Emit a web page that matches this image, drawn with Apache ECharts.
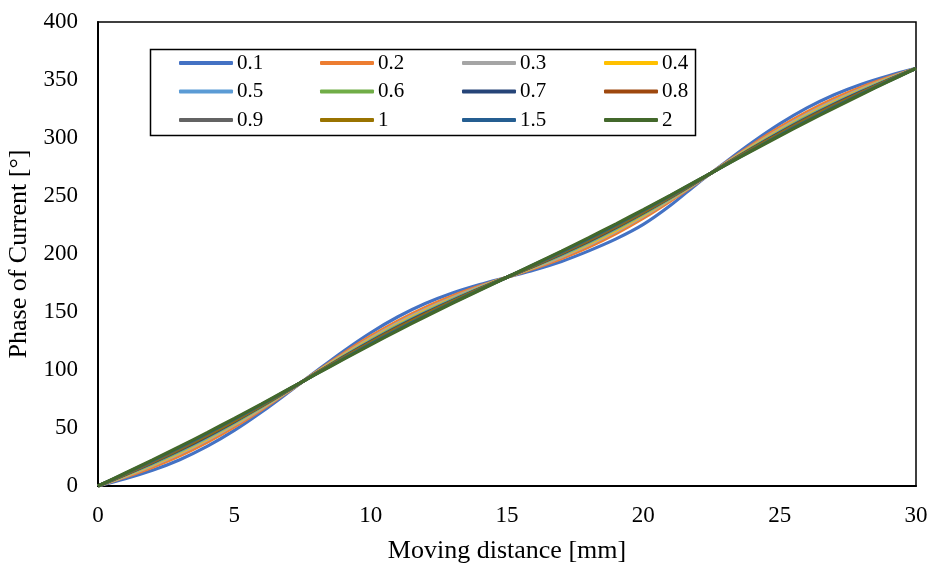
<!DOCTYPE html>
<html>
<head>
<meta charset="utf-8">
<script src="https://cdn.jsdelivr.net/npm/echarts@6/dist/echarts.min.js"></script>
<style>html,body{margin:0;padding:0;background:#fff}#c{width:931px;height:566px}</style>
</head>
<body>
<div id="c"></div>
<script>
const xValues = [0,1,2,3,4,5,6,7,8,9,10,11,12,13,14,15,16,17,18,19,20,21,22,23,24,25,26,27,28,29,30];
const seriesNames = ['0.1','0.2','0.3','0.4','0.5','0.6','0.7','0.8','0.9','1','1.5','2'];
const colors = ['#4472C4','#ED7D31','#A5A5A5','#FFC000','#5B9BD5','#70AD47','#264478','#9E480E','#636363','#997300','#255E91','#43682B'];
const s01 = [0,6.3,13.6,22.7,34.1,47.9,63.8,81.1,98.9,116.2,132.1,145.9,157.3,166.4,173.7,180,186.3,193.6,202.7,213.0,225.5,242.0,261.1,278.9,296.2,312.1,325.9,337.3,346.4,353.7,360];
const s02 = [0,7.7,16.2,26.0,37.6,50.9,65.8,81.8,98.2,114.2,129.1,142.4,154.0,163.8,172.3,180,187.7,196.2,206.0,217.6,230.9,245.8,261.8,278.2,294.2,309.1,322.4,334.0,343.8,352.3,360];
const s03 = [0,8.5,17.7,27.9,39.5,52.6,67.0,82.2,97.8,113.0,127.4,140.5,152.1,162.3,171.5,180,188.5,197.7,207.9,219.5,232.6,247.0,262.2,277.8,293.0,307.4,320.5,332.1,342.3,351.5,360];
const s04 = [0,9.0,18.6,29.1,40.7,53.7,67.7,82.5,97.5,112.3,126.3,139.3,150.9,161.4,171.0,180,189.0,198.6,209.1,220.7,233.7,247.7,262.5,277.5,292.3,306.3,319.3,330.9,341.4,351.0,360];
const s05 = [0,9.4,19.2,29.9,41.6,54.5,68.2,82.7,97.3,111.8,125.5,138.4,150.1,160.8,170.6,180,189.4,199.2,209.9,221.6,234.5,248.2,262.7,277.3,291.8,305.5,318.4,330.1,340.8,350.6,360];
const s06 = [0,9.7,19.8,30.6,42.3,55.1,68.6,82.8,97.2,111.4,124.9,137.7,149.4,160.2,170.3,180,189.7,199.8,210.6,222.3,235.1,248.6,262.8,277.2,291.4,304.9,317.7,329.4,340.2,350.3,360];
const s07 = [0,9.9,20.2,31.1,42.9,55.6,69.0,82.9,97.1,111.0,124.4,137.1,148.9,159.8,170.1,180,189.9,200.2,211.1,222.9,235.6,249.0,262.9,277.1,291.0,304.4,317.1,328.9,339.8,350.1,360];
const s08 = [0,10.1,20.6,31.6,43.4,56.0,69.3,83.0,97.0,110.7,124.0,136.6,148.4,159.4,169.9,180,190.1,200.6,211.6,223.4,236.0,249.3,263.0,277.0,290.7,304.0,316.6,328.4,339.4,349.9,360];
const s09 = [0,10.3,20.9,32.0,43.8,56.4,69.5,83.1,96.9,110.5,123.6,136.2,148.0,159.1,169.7,180,190.3,200.9,212.0,223.8,236.4,249.5,263.1,276.9,290.5,303.6,316.2,328.0,339.1,349.7,360];
const s10 = [0,10.5,21.2,32.4,44.2,56.7,69.8,83.2,96.8,110.2,123.3,135.8,147.6,158.8,169.5,180,190.5,201.2,212.4,224.2,236.7,249.8,263.2,276.8,290.2,303.3,315.8,327.6,338.8,349.5,360];
const s15 = [0,10.9,21.9,33.3,45.2,57.6,70.4,83.4,96.6,109.6,122.4,134.8,146.7,158.1,169.1,180,190.9,201.9,213.3,225.2,237.6,250.4,263.4,276.6,289.6,302.4,314.8,326.7,338.1,349.1,360];
const s20 = [0,11.2,22.5,34.1,46.0,58.3,70.8,83.6,96.4,109.2,121.7,134.0,145.9,157.5,168.8,180,191.2,202.5,214.1,226.0,238.3,250.8,263.6,276.4,289.2,301.7,314.0,325.9,337.5,348.8,360];
const allValues = [s01,s02,s03,s04,s05,s06,s07,s08,s09,s10,s15,s20];
const xTicks = {min:0, max:30, interval:5};
const yTicks = {min:0, max:400, interval:50};

const font = 'Liberation Serif';
const chart = echarts.init(document.getElementById('c'), null, {renderer:'canvas'});
const series = seriesNames.map((n,i)=>({
  name:n, type:'line', smooth:0.3, symbol:'none', showSymbol:false,
  data:xValues.map((x,j)=>[x, allValues[i][j]]),
  lineStyle:{width:3.2, color:colors[i]}, itemStyle:{color:colors[i]},
  emphasis:{disabled:true}, z:2
}));
const colLeft = [179,320,462,604];
const legends = colLeft.map((l,c)=>({
  orient:'vertical', left:l, top:52, padding:0,
  icon:'roundRect', itemWidth:54, itemHeight:4, itemGap:6.5,
  data:[seriesNames[c], seriesNames[c+4], seriesNames[c+8]],
  textStyle:{fontFamily:font, fontSize:21, color:'#000', lineHeight:22, padding:[0,0,0,-1]},
  selectedMode:false
}));
chart.setOption({
  animation:false,
  backgroundColor:'#fff',
  color:colors,
  grid:{left:98, right:15, top:22, bottom:80, show:true, borderColor:'#000', borderWidth:1.5, containLabel:false, outerBoundsMode:'none'},
  legend:legends,
  graphic:[{type:'rect', left:148, top:47, shape:{width:545, height:86}, style:{fill:'none', stroke:'#000', lineWidth:1.5}, z:5}],
  xAxis:{type:'value', min:xTicks.min, max:xTicks.max, interval:xTicks.interval,
    name:'Moving distance [mm]', nameLocation:'middle', nameGap:52,
    nameTextStyle:{fontFamily:font, fontSize:26, color:'#000'},
    axisLine:{show:true, lineStyle:{color:'#000', width:2}}, axisTick:{show:false},
    axisLabel:{fontFamily:font, fontSize:23, color:'#000', margin:18}, splitLine:{show:false}},
  yAxis:{type:'value', min:yTicks.min, max:yTicks.max, interval:yTicks.interval,
    name:'Phase of Current [°]', nameLocation:'middle', nameGap:64,
    nameTextStyle:{fontFamily:font, fontSize:26, color:'#000'},
    axisLine:{show:true, lineStyle:{color:'#000', width:2}}, axisTick:{show:false},
    axisLabel:{fontFamily:font, fontSize:23, color:'#000', margin:20}, splitLine:{show:false}},
  series:series
});
</script>
</body>
</html>
